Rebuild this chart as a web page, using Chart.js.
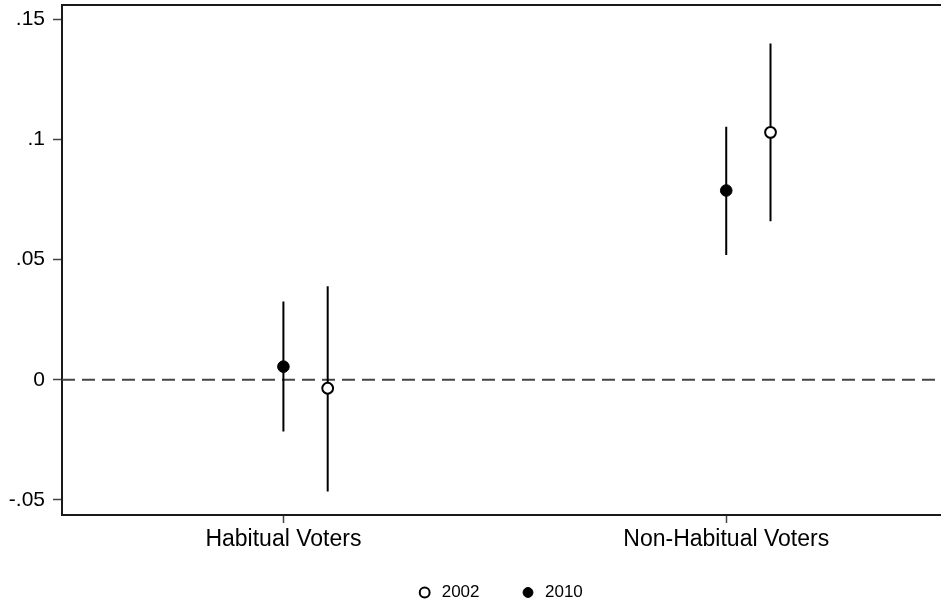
<!DOCTYPE html>
<html>
<head>
<meta charset="utf-8">
<script src="https://cdn.jsdelivr.net/npm/chart.js@4/dist/chart.umd.min.js"></script>
<style>
  html, body { margin: 0; padding: 0; background: #fff; }
  #wrap { width: 941px; height: 604px; position: relative; }
</style>
</head>
<body>
<div id="wrap"><canvas id="c" width="941" height="604"></canvas></div>
<script>
// ---- data ----
const categories = ['Habitual Voters', 'Non-Habitual Voters'];
const seriesNames = ['2002', '2010'];
const est2002 = [-0.0035, 0.103];
const lo2002  = [-0.0465, 0.066];
const hi2002  = [0.039, 0.140];
const est2010 = [0.0055, 0.0788];
const lo2010  = [-0.0215, 0.052];
const hi2010  = [0.0326, 0.1053];
const yTickValues = [-0.05, 0, 0.05, 0.1, 0.15];
const yTickLabels = ['-.05', '0', '.05', '.1', '.15'];

// ---- layout constants ----
const OFFSET_2002 = 0.1;
const X_MIN = 0.5, X_MAX = 2.485;
const Y_MIN = -0.05625, Y_MAX = 0.156;
const FONT = '"Liberation Sans", Arial, Helvetica, sans-serif';

function points(est, off) {
  return est.map((v, i) => ({ x: i + 1 + off, y: v }));
}
function bars(lo, hi, off) {
  const out = [];
  lo.forEach((v, i) => {
    out.push({ x: i + 1 + off, y: v });
    out.push({ x: i + 1 + off, y: hi[i] });
    out.push({ x: i + 1 + off, y: null });
  });
  return out;
}
function noPad(s) {
  s.paddingTop = 0; s.paddingBottom = 0; s.paddingLeft = 0; s.paddingRight = 0;
}

const legendShift = {
  id: 'legendShift',
  afterLayout(chart) {
    const lg = chart.legend;
    if (!lg) return;
    lg.left = 58;
    lg.right = 941;
    lg.top = 544;
    lg.bottom = 604;
  }
};

new Chart(document.getElementById('c'), {
  type: 'scatter',
  data: {
    datasets: [
      {
        label: seriesNames[0],
        data: points(est2002, OFFSET_2002),
        pointStyle: 'circle',
        pointRadius: 5.4,
        pointBackgroundColor: '#ffffff',
        pointBorderColor: '#000000',
        pointBorderWidth: 2,
        backgroundColor: '#ffffff',
        borderColor: '#000000',
        borderWidth: 2
      },
      {
        label: seriesNames[1],
        data: points(est2010, 0),
        pointStyle: 'circle',
        pointRadius: 5.8,
        pointBackgroundColor: '#000000',
        pointBorderColor: '#000000',
        pointBorderWidth: 1,
        backgroundColor: '#000000',
        borderColor: '#000000',
        borderWidth: 1
      },
      {
        label: 'ci2002',
        data: bars(lo2002, hi2002, OFFSET_2002),
        showLine: true,
        spanGaps: false,
        pointRadius: 0,
        borderColor: '#000000',
        borderWidth: 2
      },
      {
        label: 'ci2010',
        data: bars(lo2010, hi2010, 0),
        showLine: true,
        spanGaps: false,
        pointRadius: 0,
        borderColor: '#000000',
        borderWidth: 2
      },
      {
        label: 'zero',
        data: [{ x: X_MIN, y: 0 }, { x: X_MAX, y: 0 }],
        showLine: true,
        pointRadius: 0,
        borderColor: '#444444',
        borderWidth: 2,
        borderDash: [13, 7]
      }
    ]
  },
  options: {
    responsive: false,
    animation: false,
    events: [],
    layout: { autoPadding: false, padding: { top: 5, left: 0, right: 0, bottom: 0 } },
    plugins: {
      tooltip: { enabled: false },
      legend: {
        position: 'bottom',
        maxHeight: 49,
        labels: {
          filter: (item) => seriesNames.includes(item.text),
          usePointStyle: true,
          boxWidth: 17,
          boxHeight: 7,
          padding: 40,
          color: '#000000',
          font: { family: FONT, size: 17 }
        }
      }
    },
    scales: {
      x: {
        type: 'linear',
        position: 'bottom',
        min: X_MIN,
        max: X_MAX,
        afterBuildTicks: (s) => { s.ticks = categories.map((c, i) => ({ value: i + 1 })); },
        afterFit: (s) => { s.height = 40; noPad(s); },
        ticks: {
          callback: (v) => categories[Math.round(v) - 1] || '',
          color: '#000000',
          font: { family: FONT, size: 23 },
          padding: 3,
          maxRotation: 0,
          autoSkip: false
        },
        grid: { drawOnChartArea: false, drawTicks: true, tickLength: 8, tickColor: '#444444', tickWidth: 1.5 },
        border: { display: true, color: '#1a1a1a', width: 2 }
      },
      x2: {
        type: 'linear',
        position: 'top',
        min: X_MIN,
        max: X_MAX,
        afterFit: (s) => { s.height = 0; noPad(s); },
        ticks: { display: false },
        grid: { display: false, drawTicks: false },
        border: { display: true, color: '#1a1a1a', width: 2 }
      },
      y: {
        type: 'linear',
        position: 'left',
        min: Y_MIN,
        max: Y_MAX,
        afterBuildTicks: (s) => { s.ticks = yTickValues.map(v => ({ value: v })); },
        afterFit: (s) => { s.width = 62; noPad(s); },
        ticks: {
          callback: (v) => {
            const i = yTickValues.findIndex(t => Math.abs(t - v) < 1e-9);
            return i >= 0 ? yTickLabels[i] : '';
          },
          color: '#000000',
          font: { family: FONT, size: 21 },
          padding: 8,
          autoSkip: false
        },
        grid: { drawOnChartArea: false, drawTicks: true, tickLength: 9, tickColor: '#444444', tickWidth: 1.5 },
        border: { display: true, color: '#1a1a1a', width: 2 }
      }
    }
  },
  plugins: [legendShift]
});
</script>
</body>
</html>
